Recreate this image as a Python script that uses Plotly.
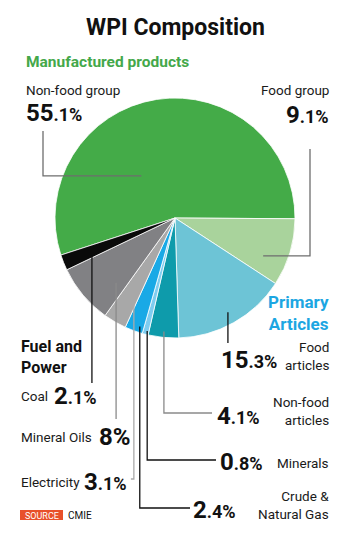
import math
import plotly.graph_objects as go

# WPI weights (%) by group, clockwise from the left edge of the big slice
labels = ["Non-food group", "Food group", "Food articles", "Non-food articles",
          "Minerals", "Crude & Natural Gas", "Electricity", "Mineral Oils", "Coal"]
weights = [55.1, 9.1, 15.3, 4.1, 0.8, 2.4, 3.1, 8, 2.1]
colors = ["#44ab48", "#a9d39c", "#6dc4d6", "#0e9bab", "#7fcdf0",
          "#19a9e6", "#a8a8a8", "#818184", "#0a0a0a"]

W, H = 350, 540
CX, CY, R = 175, 218, 120
ROTATION = 252

FONT = "Roboto, Arial"


def px(x, y):
    return x / W, 1 - y / H


fig = go.Figure(go.Pie(
    labels=labels, values=weights, sort=False, direction="clockwise",
    rotation=ROTATION, marker=dict(colors=colors, line=dict(color="white", width=0.8)),
    textinfo="none", hoverinfo="label+value",
    domain=dict(x=[(CX - R) / W, (CX + R) / W], y=[1 - (CY + R) / H, 1 - (CY - R) / H]),
))

# slice boundaries in degrees clockwise from 12 o'clock
total = sum(weights)
starts, acc = [], ROTATION
for v in weights:
    starts.append(acc)
    acc += v / total * 360


def anchor(i, t, f):
    """Point inside slice i: fraction t across the slice, fraction f of the radius."""
    ang = math.radians(starts[i] + t * weights[i] / total * 360)
    return CX + f * R * math.sin(ang), CY - f * R * math.cos(ang)


shapes = []


def leader(points, color, width=1.3):
    path = "M " + " L ".join(f"{px(x, y)[0]:.5f},{px(x, y)[1]:.5f}" for x, y in points)
    shapes.append(dict(type="path", path=path, xref="paper", yref="paper",
                       line=dict(color=color, width=width)))


GRAY = "#6e6e6e"
# manufactured products
ax, ay = anchor(0, 0.35, 0.45)
leader([(ax, ay), (43, ay), (43, 131)], GRAY)
ax, ay = anchor(1, 0.7, 0.8)
leader([(ax, ay), (310, ay), (310, 149)], GRAY)
# primary articles
ax, ay = anchor(2, 0.5, 0.9)
leader([(ax, ay), (ax, 343)], "#111111")
ax, ay = anchor(3, 0.5, 0.95)
leader([(ax, ay), (ax, 413), (212, 413)], "#8a8a8a")
ax, ay = anchor(4, 0.3, 0.97)
leader([(ax, ay), (ax, 460), (216, 460)], "#111111")
ax, ay = anchor(5, 0.25, 0.95)
leader([(ax, ay), (ax, 508), (190, 508)], "#111111")
# fuel and power
ax, ay = anchor(6, 0.08, 0.8)
leader([(ax, ay), (ax, 479), (ax - 3, 479)], "#a9a9a9")
ax, ay = anchor(7, 0.23, 0.73)
leader([(ax, ay), (ax, 419)], "#8a8a8a")
ax, ay = anchor(8, 0.05, 0.765)
leader([(ax, ay), (ax, 383)], "#111111")

annotations = []


def text(x, y, s, size=13, color="#1a1a1a", xanchor="left", align="left", bold=False):
    if bold:
        s = f"<b>{s}</b>"
    X, Y = px(x, y)
    annotations.append(dict(x=X, y=Y, xref="paper", yref="paper", text=s, showarrow=False,
                            xanchor=xanchor, yanchor="middle", align=align,
                            font=dict(family=FONT, size=size, color=color)))


def pct(whole, frac, small=18):
    return f"<b>{whole}</b><b><span style='font-size:{small}px'>{frac}%</span></b>"


BIG = 24
LBL = 13.5
text(175, 28, "WPI Composition", size=23, color="#111111", xanchor="center", bold=True)
text(24, 62, "Manufactured products", size=15.5, color="#44a84a", bold=True)
text(24, 90, "Non-food group", size=LBL)
text(24, 113, pct("55", ".1"), size=BIG, color="#111111")
text(331, 90, "Food group", size=LBL, xanchor="right", align="right")
text(331, 115, pct("9", ".1"), size=BIG, color="#111111", xanchor="right")

text(331, 313, "Primary<br>Articles", size=17, color="#1ca6e2", xanchor="right",
     align="right", bold=True)
text(331, 356, "Food<br>articles", size=LBL, xanchor="right", align="right")
text(219, 360, pct("15", ".3"), size=BIG, color="#111111")
text(331, 411, "Non-food<br>articles", size=LBL, xanchor="right", align="right")
text(215, 416, pct("4", ".1"), size=BIG, color="#111111")
text(331, 463, "Minerals", size=LBL, xanchor="right")
text(218, 462, pct("0", ".8"), size=BIG, color="#111111")
text(331, 505, "Crude &<br>Natural Gas", size=LBL, xanchor="right", align="right")
text(191, 510, pct("2", ".4"), size=BIG, color="#111111")

text(19, 357, "Fuel and<br>Power", size=16, color="#111111", bold=True)
text(19, 396, "Coal", size=LBL)
text(52, 396, pct("2", ".1"), size=BIG, color="#111111")
text(19, 437, "Mineral Oils", size=LBL)
text(97, 437, pct("8", "", small=BIG), size=BIG, color="#111111")
text(19, 482, "Electricity", size=LBL)
text(129, 482, pct("3", ".1"), size=BIG, color="#111111", xanchor="right")

# source tag
x0, y0 = px(20, 510)
x1, y1 = px(63, 520)
shapes.append(dict(type="rect", xref="paper", yref="paper", x0=x0, x1=x1, y0=y1, y1=y0,
                   fillcolor="#e8502a", line=dict(width=0)))
text(41.5, 515.5, "SOURCE", size=9, color="white", xanchor="center")
text(66, 515.5, "CMIE", size=10, color="#111111")

fig.update_layout(width=W, height=H, margin=dict(l=0, r=0, t=0, b=0),
                  paper_bgcolor="white", plot_bgcolor="white", showlegend=False,
                  shapes=shapes, annotations=annotations)
fig.write_html("out.html")
